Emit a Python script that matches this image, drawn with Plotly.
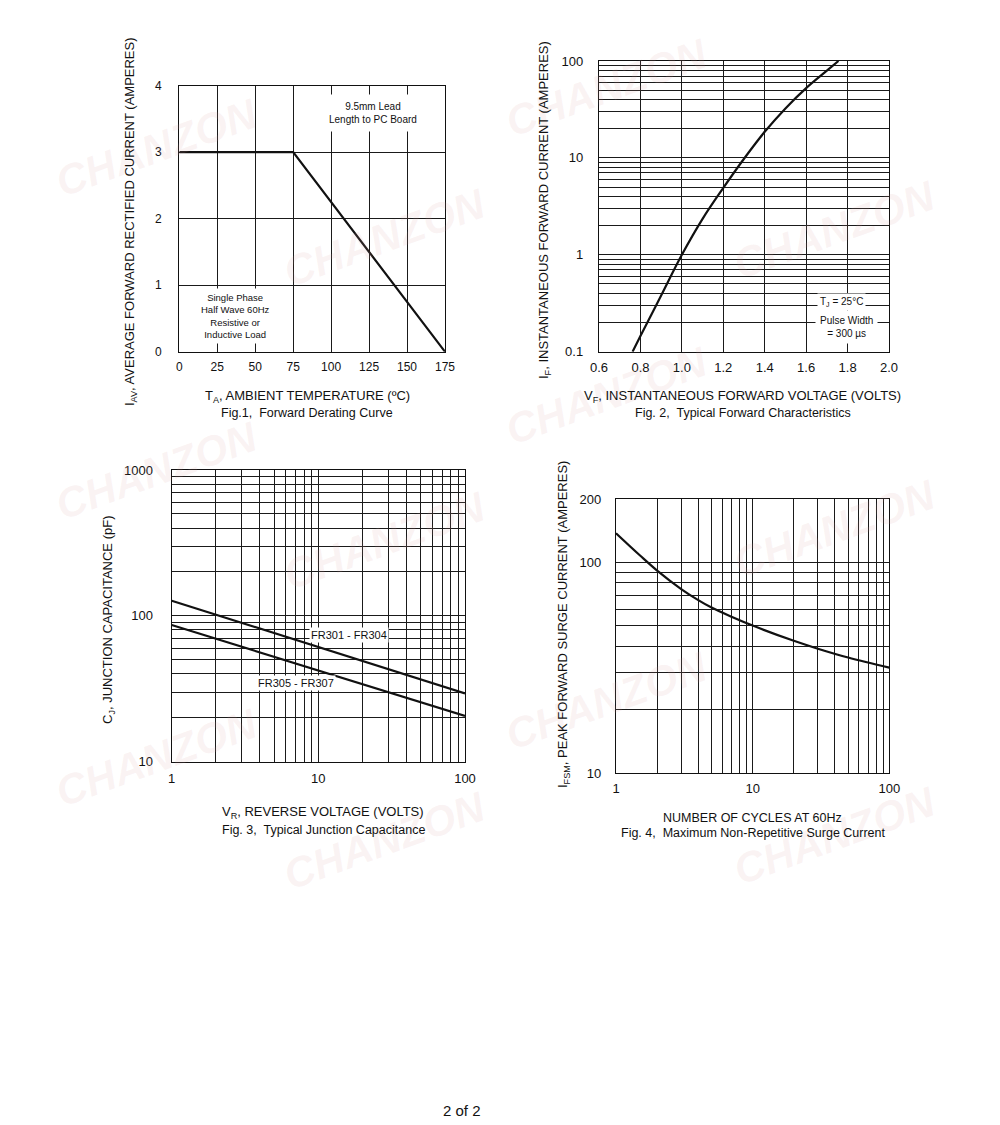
import plotly.graph_objects as go
import math

# ---------------- DATA ----------------
# Fig. 1 Forward Derating Curve
f1_temp = [0, 75, 175]
f1_current = [3, 3, 0]
f1_xticks = [0, 25, 50, 75, 100, 125, 150, 175]
f1_yticks = [0, 1, 2, 3, 4]

# Fig. 2 Typical Forward Characteristics
f2_vf = [0.762, 0.8, 0.9, 1.0, 1.1, 1.2, 1.3, 1.4, 1.5, 1.6, 1.7, 1.756]
f2_if = [0.1, 0.145, 0.38, 1.0, 2.35, 4.9, 9.8, 18.6, 32.4, 52.5, 79.4, 100]
f2_xticks = [0.6, 0.8, 1.0, 1.2, 1.4, 1.6, 1.8, 2.0]
f2_xticklabels = ["0.6", "0.8", "1.0", "1.2", "1.4", "1.6", "1.8", "2.0"]
f2_yticks = [0.1, 1, 10, 100]
f2_yticklabels = ["0.1", "1", "10", "100"]
f2_yminor = [0.2, 0.3, 0.4, 0.5, 0.6, 0.7, 0.8, 0.9,
             2, 3, 4, 5, 6, 7, 8, 9,
             20, 30, 40, 50, 60, 70, 80, 90]

# Fig. 3 Typical Junction Capacitance
f3_vr = [1, 10, 100]
f3_fr301_304 = [127, 61.1, 29.4]
f3_fr305_307 = [86.5, 42.2, 20.6]
f3_xticks = [1, 10, 100]
f3_xticklabels = ["1", "10", "100"]
f3_xminor = [2, 3, 4, 5, 6, 7, 8, 9, 20, 30, 40, 50, 60, 70, 80, 90]
f3_yticks = [10, 100, 1000]
f3_yticklabels = ["10", "100", "1000"]
f3_yminor = [20, 30, 40, 50, 60, 70, 80, 90, 200, 300, 400, 500, 600, 700, 800, 900]

# Fig. 4 Maximum Non-Repetitive Surge Current
f4_cycles = [1, 1.5, 2, 3, 4, 5, 7, 10, 20, 30, 50, 100]
f4_ifsm = [137.6, 107.9, 91.5, 74.8, 66.3, 61.1, 55.3, 50.2, 42.5, 39.0, 35.4, 31.7]
f4_xticks = [1, 10, 100]
f4_xticklabels = ["1", "10", "100"]
f4_xminor = [2, 3, 4, 5, 6, 7, 8, 9, 20, 30, 40, 50, 60, 70, 80, 90]
f4_yticks = [10, 100, 200]
f4_yticklabels = ["10", "100", "200"]
f4_yminor = [20, 30, 40, 50, 60, 70, 80, 90]

# ---------------- LAYOUT HELPERS ----------------
W, H = 1000, 1125
FONT = "Liberation Sans, Arial, Helvetica, sans-serif"
INK = "#111111"


def px(x):
    return x / W


def py(y):
    return 1 - y / H


def axis(domain, rng, tickvals, ticktext=None, typ="linear", minor=None,
         standoff=4, size=12, anchor=None):
    d = dict(domain=domain, range=rng, type=typ, tickmode="array",
             tickvals=tickvals, showline=True, linecolor=INK, linewidth=1.4,
             mirror=True, showgrid=True, gridcolor="#1a1a1a", gridwidth=1,
             zeroline=False, ticks="", ticklabelstandoff=standoff,
             tickfont=dict(family=FONT, size=size, color="#111"),
             fixedrange=True, anchor=anchor, automargin=False)
    if ticktext is not None:
        d["ticktext"] = ticktext
    if minor is not None:
        d["minor"] = dict(tickmode="array", tickvals=minor, showgrid=True,
                          gridcolor="#1a1a1a", gridwidth=1, ticks="")
    return d


fig = go.Figure()

line_style = dict(color=INK, width=2.2)
fig.add_trace(go.Scatter(x=f1_temp, y=f1_current, mode="lines",
                         line=line_style, xaxis="x", yaxis="y",
                         showlegend=False, hoverinfo="skip"))
fig.add_trace(go.Scatter(x=f2_vf, y=f2_if, mode="lines",
                         line=dict(color=INK, width=2.2, shape="spline"),
                         xaxis="x2", yaxis="y2", showlegend=False,
                         hoverinfo="skip"))
fig.add_trace(go.Scatter(x=f3_vr, y=f3_fr301_304, mode="lines",
                         line=line_style, xaxis="x3", yaxis="y3",
                         showlegend=False, hoverinfo="skip"))
fig.add_trace(go.Scatter(x=f3_vr, y=f3_fr305_307, mode="lines",
                         line=line_style, xaxis="x3", yaxis="y3",
                         showlegend=False, hoverinfo="skip"))
fig.add_trace(go.Scatter(x=f4_cycles, y=f4_ifsm, mode="lines",
                         line=dict(color=INK, width=2.2, shape="spline"),
                         xaxis="x4", yaxis="y4", showlegend=False,
                         hoverinfo="skip"))

layout = dict(
    template="none",
    width=W, height=H, margin=dict(l=0, r=0, t=0, b=0, pad=0, autoexpand=False),
    paper_bgcolor="white", plot_bgcolor="white", showlegend=False,
    font=dict(family=FONT, color="#111"),
    xaxis=axis([px(179.3), px(445)], [0, 175], f1_xticks, standoff=4, size=12, anchor="y"),
    yaxis=axis([py(351.7), py(85.7)], [0, 4], f1_yticks, standoff=14, size=12, anchor="x"),
    xaxis2=axis([px(599), px(889)], [0.6, 2.0], f2_xticks, f2_xticklabels,
                standoff=3, size=13, anchor="y2"),
    yaxis2=axis([py(351.7), py(61)], [-1, 2], f2_yticks, f2_yticklabels, typ="log",
                minor=f2_yminor, standoff=12, size=13, anchor="x2"),
    xaxis3=axis([px(171.7), px(465)], [0, 2], f3_xticks, f3_xticklabels, typ="log",
                minor=f3_xminor, standoff=4, size=13, anchor="y3"),
    yaxis3=axis([py(761.7), py(470)], [1, 3], f3_yticks, f3_yticklabels, typ="log",
                minor=f3_yminor, standoff=15, size=13, anchor="x3"),
    xaxis4=axis([px(616), px(889.3)], [0, 2], f4_xticks, f4_xticklabels, typ="log",
                minor=f4_xminor, standoff=3, size=13, anchor="y4"),
    yaxis4=axis([py(773.3), py(499)], [1, math.log10(200)], f4_yticks, f4_yticklabels,
                typ="log", minor=f4_yminor, standoff=11, size=13, anchor="x4"),
)
fig.update_layout(**layout)


def text(t, x, y, size=13, angle=0, bg=None, pad=1, align="center"):
    a = dict(text=t, x=px(x), y=py(y), xref="paper", yref="paper",
             showarrow=False, xanchor="center", yanchor="middle",
             textangle=angle, align=align,
             font=dict(family=FONT, size=size, color="#111"))
    if bg:
        a["bgcolor"] = bg
        a["borderpad"] = pad
    fig.add_annotation(**a)


# watermarks (faint)
wm = [(157, 147), (385, 237), (607, 87), (835, 230),
      (157, 470), (385, 540), (607, 395), (835, 528),
      (157, 757), (385, 840), (607, 700), (835, 835)]
for (wx, wy) in wm:
    fig.add_annotation(text="<b><i>CHANZON</i></b>", x=px(wx), y=py(wy),
                       xref="paper", yref="paper", showarrow=False,
                       xanchor="center", yanchor="middle", textangle=-20,
                       font=dict(family=FONT, size=42,
                                 color="rgba(215,160,160,0.13)"))

# Fig 1 texts
text("9.5mm Lead<br>Length to PC Board", 373, 113, size=10, bg="white", pad=6)
text("Single Phase<br>Half Wave 60Hz<br>Resistive or<br>Inductive Load", 235, 316,
     size=9.5, bg="white", pad=3)
text("I<sub>AV</sub>, AVERAGE FORWARD RECTIFIED CURRENT (AMPERES)", 130, 222, size=13, angle=-90)
text("T<sub>A</sub>, AMBIENT TEMPERATURE (ºC)", 307, 397, size=13)
text("Fig.1,  Forward Derating Curve", 307, 413, size=12.5)

# Fig 2 texts
text("T<sub>J</sub> = 25°C", 841.5, 302, size=10, bg="white", pad=2)
text("Pulse Width<br>= 300 µs", 846, 327, size=10, bg="white", pad=4)
text("I<sub>F</sub>, INSTANTANEOUS FORWARD CURRENT (AMPERES)", 545, 210, size=13, angle=-90)
text("V<sub>F</sub>, INSTANTANEOUS FORWARD VOLTAGE (VOLTS)", 742.5, 397, size=13)
text("Fig. 2,  Typical Forward Characteristics", 742.5, 413, size=12.5)

# Fig 3 texts
text("FR301 - FR304", 348.5, 635, size=11, bg="white", pad=1)
text("FR305 - FR307", 296, 683, size=11, bg="white", pad=1)
text("C<sub>J</sub>, JUNCTION CAPACITANCE (pF)", 108, 620, size=13, angle=-90)
text("V<sub>R</sub>, REVERSE VOLTAGE (VOLTS)", 323, 812, size=13)
text("Fig. 3,  Typical Junction Capacitance", 323, 830, size=12.5)

# Fig 4 texts
text("I<sub>FSM</sub>, PEAK FORWARD SURGE CURRENT (AMPERES)", 563, 625, size=13, angle=-90)
text("NUMBER OF CYCLES AT 60Hz", 752.5, 818, size=12.5)
text("Fig. 4,  Maximum Non-Repetitive Surge Current", 753, 833, size=12.5)

# page number
text("2 of 2", 462, 1110, size=15)

fig.write_html("out.html", config={"displayModeBar": False},
               post_script="document.body.style.margin='0px';document.body.style.padding='0px';")
